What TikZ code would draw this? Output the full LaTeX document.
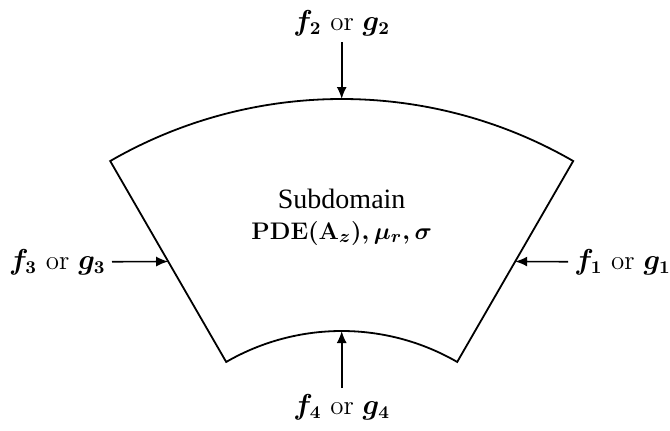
\documentclass[tikz,border=0pt]{standalone}
\usepackage{amsmath}
\usepackage{fontspec}
\newfontfamily\timesfont{Liberation Serif}
\usepackage{tikz}
\usetikzlibrary{arrows.meta,calc}

\begin{document}
\begin{tikzpicture}[
    x=0.5pt, y=0.5pt,
    region/.style={draw=black, line width=0.9pt, line join=miter},
    flux/.style={-{Latex[length=6pt,width=5pt]}, line width=0.8pt, draw=black},
    bclabel/.style={font=\fontsize{13.5}{15}\selectfont\boldmath, inner sep=3pt},
    sdlabel/.style={font=\timesfont\fontsize{14}{16}\selectfont, inner sep=1pt},
    pdelabel/.style={font=\fontsize{13}{15}\selectfont\boldmath, inner sep=1pt}
  ]
  \useasboundingbox (0,0) rectangle (670,430);

  % Key coordinates of the annular sector
  \coordinate (C) at (341.7,-132);                   % centre of both arcs
  \coordinate (Otop) at ($(C)+(90:463)$);            % outer arc apex
  \coordinate (Itop) at ($(C)+(90:231)$);            % inner arc apex
  \coordinate (Lmid) at ($(C)+(120:347)$);           % left side
  \coordinate (Rmid) at ($(C)+(60:347)$);            % right side

  % Subdomain
  \draw[region] ($(C)+(60:463)$) arc[start angle=60, end angle=120, radius=463]
    -- ($(C)+(120:231)$) arc[start angle=120, end angle=60, radius=231] -- cycle;

  % Nodes
  \node[sdlabel] (sdname) at (341.7,231) {Subdomain};
  \node[pdelabel] (sdpde) at (341.7,197) {$\mathbf{PDE}(\mathbf{A}_z), \mu_r, \sigma$};

  \node[bclabel, anchor=south] (bctop) at (341.7,388) {$f_2\ \text{or}\ g_2$};
  \node[bclabel, anchor=north] (bcbot) at (341.7,42) {$f_4\ \text{or}\ g_4$};
  \node[bclabel, anchor=east] (bcleft) at (112,168) {$f_3\ \text{or}\ g_3$};
  \node[bclabel, anchor=west] (bcright) at (568,168) {$f_1\ \text{or}\ g_1$};

  % Boundary conditions
  \draw[flux] (bctop) -- (Otop);
  \draw[flux] (bcbot) -- (Itop);
  \draw[flux] (bcleft) -- (Lmid);
  \draw[flux] (bcright) -- (Rmid);

\end{tikzpicture}
\end{document}
